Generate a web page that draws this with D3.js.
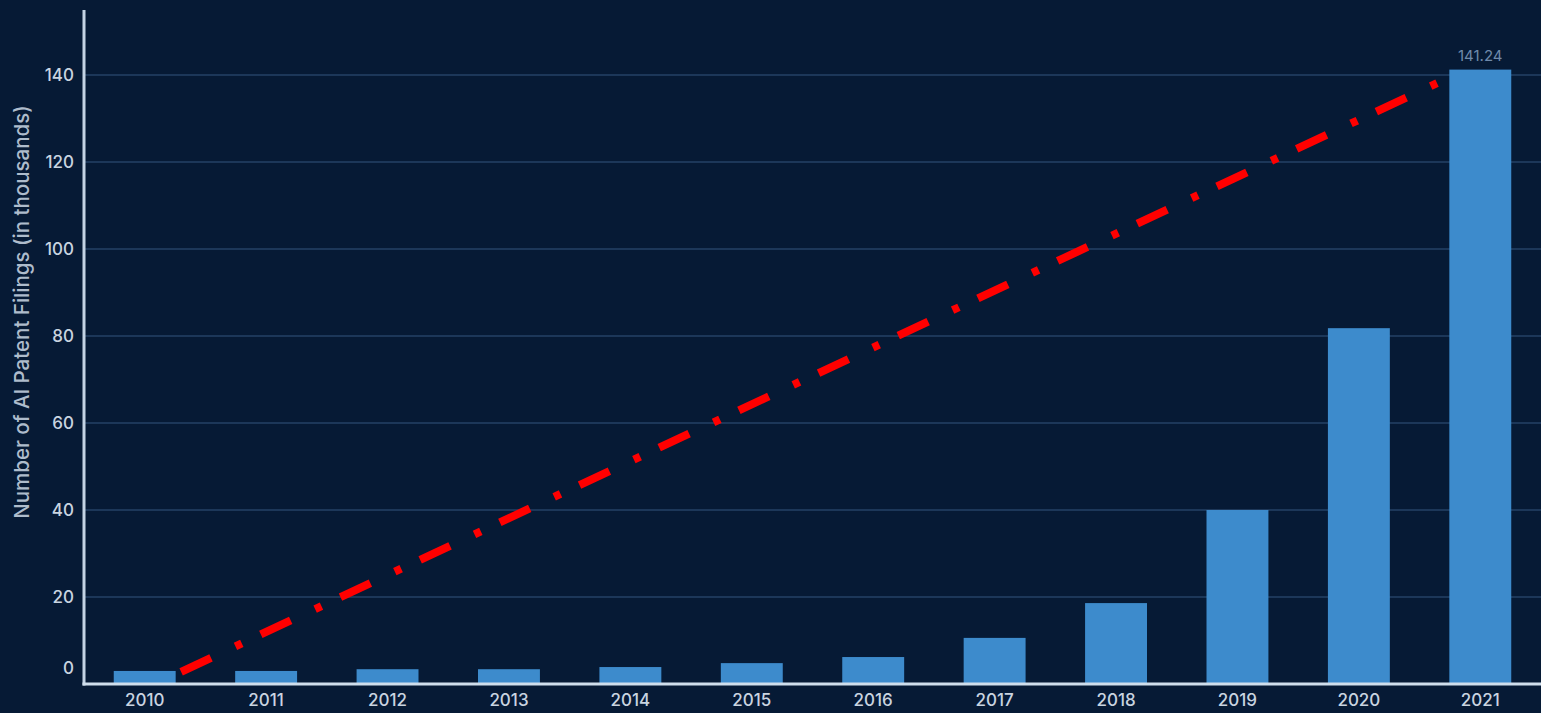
<!DOCTYPE html>
<html>
<head>
<meta charset="utf-8">
<script src="https://cdn.jsdelivr.net/npm/d3@7/dist/d3.min.js"></script>
<style>
  html, body { margin: 0; padding: 0; background: #061a35; }
  svg { display: block; }
  text { font-family: Inter, "Noto Sans", sans-serif; }
</style>
</head>
<body>
<svg id="chart" width="1541" height="713"></svg>
<script>
// AI patent filings per year, in thousands
const years = ["2010","2011","2012","2013","2014","2015","2016","2017","2018","2019","2020","2021"];
const filings = [3.0, 3.0, 3.4, 3.4, 3.9, 4.8, 6.2, 10.6, 18.6, 40.0, 81.8, 141.24];
const yTicks = [0, 20, 40, 60, 80, 100, 120, 140];
// Trend annotation: [year index, value] endpoints
const trendPoints = [[0.3, 2.8], [10.68, 138.6]];
const labeledYear = "2021";

const W = 1541, H = 713;
const margin = { top: 10, right: 0, bottom: 29, left: 84 };

const svg = d3.select("#chart");
svg.append("rect").attr("width", W).attr("height", H).attr("fill", "#061a35");

const x = d3.scaleBand()
  .domain(years)
  .range([margin.left, W - margin.right])
  .paddingInner(0.49)
  .paddingOuter(0.245);

const y = d3.scaleLinear()
  .domain([0, 140])
  .range([H - margin.bottom, 75]);

// horizontal gridlines
svg.append("g")
  .selectAll("line")
  .data(yTicks.filter(d => d > 0))
  .join("line")
  .attr("x1", margin.left)
  .attr("x2", W)
  .attr("y1", d => y(d))
  .attr("y2", d => y(d))
  .attr("stroke", "#1c3759")
  .attr("stroke-width", 2);

// bars
svg.append("g")
  .selectAll("rect")
  .data(years.map((yr, i) => ({ yr, v: filings[i] })))
  .join("rect")
  .attr("x", d => x(d.yr))
  .attr("width", x.bandwidth())
  .attr("y", d => y(d.v))
  .attr("height", d => y(0) - y(d.v))
  .attr("fill", "#3d8bcc");

// value label on the latest bar
const li = years.indexOf(labeledYear);
svg.append("text")
  .attr("x", x(labeledYear) + x.bandwidth() / 2)
  .attr("y", y(filings[li]) - 9)
  .attr("text-anchor", "middle")
  .attr("font-size", 15)
  .attr("fill", "#6f8aab")
  .text(d3.format(".2f")(filings[li]));

// y axis
const yAxis = d3.axisLeft(y).tickValues(yTicks).tickSize(0).tickPadding(10);
const gy = svg.append("g")
  .attr("transform", `translate(${margin.left},0)`)
  .call(yAxis);
gy.select(".domain").remove();
gy.selectAll("text")
  .attr("font-size", 17)
  .attr("font-weight", 500)
  .attr("fill", "#c9d4e0")
  .attr("dy", d => d === 0 ? "-0.62em" : "0.32em");

svg.append("line")
  .attr("x1", margin.left).attr("x2", margin.left)
  .attr("y1", margin.top).attr("y2", y(0) + 1.5)
  .attr("stroke", "#c3d3e4")
  .attr("stroke-width", 3);

// x axis
const xAxis = d3.axisBottom(x).tickSize(0).tickPadding(10);
const gx = svg.append("g")
  .attr("transform", `translate(0,${y(0)})`)
  .call(xAxis);
gx.select(".domain").remove();
gx.selectAll("text")
  .attr("font-size", 17)
  .attr("font-weight", 500)
  .attr("fill", "#c9d4e0");

svg.append("line")
  .attr("x1", margin.left - 1.5).attr("x2", W)
  .attr("y1", y(0)).attr("y2", y(0))
  .attr("stroke", "#cfdeec")
  .attr("stroke-width", 3);

// y axis title
svg.append("text")
  .attr("transform", `translate(29,312) rotate(-90)`)
  .attr("text-anchor", "middle")
  .attr("font-size", 20.5)
  .attr("font-weight", 500)
  .attr("fill", "#aebccc")
  .text("Number of AI Patent Filings (in thousands)");

// dash-dot trend line
const step = x.step();
const cx0 = x(years[0]) + x.bandwidth() / 2;
const trend = d3.line()
  .x(d => cx0 + d[0] * step)
  .y(d => y(d[1]));
svg.append("path")
  .attr("d", trend(trendPoints))
  .attr("fill", "none")
  .attr("stroke", "#ff0000")
  .attr("stroke-width", 8)
  .attr("stroke-dasharray", "33 27 7 21");
</script>
</body>
</html>
